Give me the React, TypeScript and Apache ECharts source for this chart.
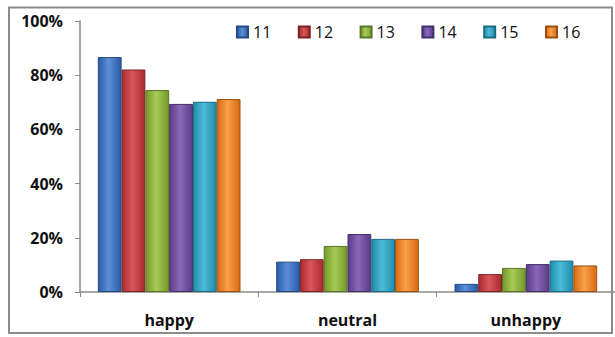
import React, { useEffect, useRef } from "react";
import * as echarts from "echarts";

const categories = ["happy", "neutral", "unhappy"];
const seriesNames = ["11", "12", "13", "14", "15", "16"];
const s11 = [86.7, 11.2, 3.0];
const s12 = [82.1, 12.1, 6.6];
const s13 = [74.5, 17.0, 8.9];
const s14 = [69.4, 21.4, 10.3];
const s15 = [70.2, 19.6, 11.6];
const s16 = [71.2, 19.6, 9.8];
const seriesValues = [s11, s12, s13, s14, s15, s16];
const baseColors = [
  ["#2a5aa8", "#5b8fd8"],
  ["#a82a2e", "#d9575a"],
  ["#74992a", "#a6cc55"],
  ["#5a3c88", "#8a68b8"],
  ["#1f8cab", "#4cbcd8"],
  ["#d86a12", "#f9a048"],
];
const borderColors = ["#264a80", "#7a2426", "#5a7426", "#43306a", "#1d6a80", "#9a5012"];

export default function App() {
  const ref = useRef<HTMLDivElement>(null);
  useEffect(() => {
    if (!ref.current) return;
    const chart = echarts.init(ref.current, null, { renderer: "svg" });
    const font = "'Open Sans', 'Noto Sans', sans-serif";
    chart.setOption({
      animation: false,
      backgroundColor: "#ffffff",
      graphic: [
        {
          type: "rect",
          shape: { x: 9, y: 7.5, width: 603, height: 325.5 },
          style: { fill: "none", stroke: "#8c8c8c", lineWidth: 2 },
          z: 10,
        },
      ],
      legend: {
        left: 231,
        top: 19,
        itemWidth: 11,
        itemHeight: 11,
        itemGap: 26.5,
        icon: "rect",
        textStyle: { fontSize: 16, color: "#111", fontFamily: font },
        data: seriesNames,
      },
      grid: { left: 80, right: -6, top: 21, bottom: 45, containLabel: false },
      xAxis: {
        type: "category",
        data: categories,
        axisLine: { lineStyle: { color: "#8a8a8a", width: 1.5 } },
        axisTick: { show: true, length: 5, lineStyle: { color: "#8a8a8a" } },
        axisLabel: {
          margin: 20,
          fontSize: 16,
          fontWeight: "bold",
          color: "#111",
          fontFamily: font,
        },
      },
      yAxis: {
        type: "value",
        min: 0,
        max: 100,
        interval: 20,
        splitLine: { show: false },
        axisLine: { show: true, lineStyle: { color: "#8a8a8a", width: 1.5 } },
        axisTick: { show: true, length: 5, lineStyle: { color: "#8a8a8a" } },
        axisLabel: {
          margin: 17,
          fontSize: 16,
          fontWeight: "bold",
          color: "#111",
          fontFamily: font,
          formatter: "{value}%",
        },
      },
      series: seriesNames.map((name, i) => ({
        name,
        type: "bar",
        data: seriesValues[i],
        barGap: "0%",
        barCategoryGap: "20%",
        itemStyle: {
          color: new echarts.graphic.LinearGradient(0, 0, 1, 0, [
            { offset: 0, color: baseColors[i][0] },
            { offset: 0.45, color: baseColors[i][1] },
            { offset: 1, color: baseColors[i][0] },
          ]),
          borderColor: borderColors[i],
          borderWidth: 1,
        },
      })),
    });
    return () => chart.dispose();
  }, []);
  return (
    <div
      ref={ref}
      style={{ position: "fixed", left: 0, top: 0, width: 615, height: 337 }}
    />
  );
}
